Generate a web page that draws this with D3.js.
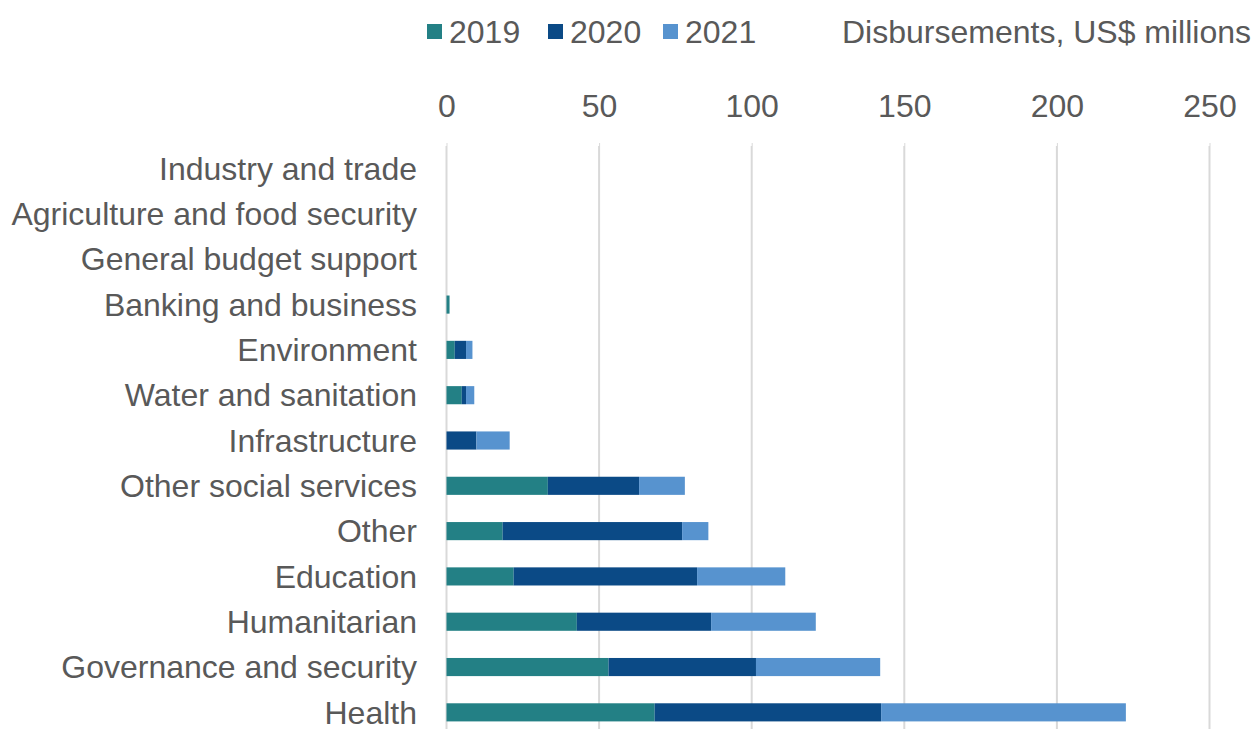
<!DOCTYPE html>
<html><head><meta charset="utf-8">
<script src="https://cdn.jsdelivr.net/npm/d3@7"></script>
<style>body{margin:0;background:#fff}svg{display:block}text{font-family:"Liberation Sans",Arial,sans-serif;fill:#595959}</style>
</head><body><svg id="c" width="1256" height="729"></svg>
<script>
const categories = ["Industry and trade","Agriculture and food security","General budget support","Banking and business","Environment","Water and sanitation","Infrastructure","Other social services","Other","Education","Humanitarian","Governance and security","Health"];
const years = ["2019","2020","2021"];
const v2019 = [0,0,0,1.0,2.7,5.0,0,33.2,18.4,22.0,42.7,53.1,68.2];
const v2020 = [0,0,0,0,3.7,1.4,9.8,29.9,58.8,60.1,44.0,48.3,74.2];
const v2021 = [0,0,0,0,2.1,2.7,10.9,15.0,8.6,28.9,34.3,40.7,80.2];
const ticks = [0,50,100,150,200,250];
const colors = ["#238085","#0b4a86","#5793cf"];

const svg = d3.select("#c");
const x = d3.scaleLinear().domain([0,250]).range([446.5,1209.5]);
const y = d3.scaleBand().domain(categories).range([146,735]).paddingInner(0.6).paddingOuter(0.3);

// gridlines
svg.append("g").selectAll("line").data(ticks).join("line")
  .attr("x1",d=>x(d)).attr("x2",d=>x(d)).attr("y1",146).attr("y2",735)
  .attr("stroke","#d9d9d9").attr("stroke-width",2);

// top axis
const ax = svg.append("g").attr("transform","translate(0,146)")
  .call(d3.axisTop(x).tickValues(ticks).tickSize(3).tickPadding(26));
ax.select(".domain").remove();
ax.selectAll(".tick line").attr("stroke","#d9d9d9");
ax.selectAll("text").style("font-size","32px").attr("fill","#595959");

// stacked bars
const rows = categories.map((c,i)=>({cat:c,"2019":v2019[i],"2020":v2020[i],"2021":v2021[i]}));
const stack = d3.stack().keys(years)(rows);
svg.append("g").selectAll("g").data(stack).join("g")
  .attr("fill",(d,i)=>colors[i])
  .selectAll("rect").data(d=>d.filter(p=>p[1]-p[0]>0)).join("rect")
  .attr("x",d=>x(d[0])).attr("width",d=>x(d[1])-x(d[0]))
  .attr("y",d=>y(d.data.cat)).attr("height",y.bandwidth());

// category labels
svg.append("g").selectAll("text").data(categories).join("text")
  .attr("x",417).attr("y",d=>y(d)+y.bandwidth()/2).attr("dy","0.35em")
  .attr("text-anchor","end").style("font-size","32px").text(d=>d);

// legend
const lx = [427,548,663];
const lg = svg.append("g");
years.forEach((yr,i)=>{
  lg.append("rect").attr("x",lx[i]).attr("y",24).attr("width",15).attr("height",15).attr("fill",colors[i]);
  lg.append("text").attr("x",lx[i]+22).attr("y",32).attr("dy","0.35em").style("font-size","32px").text(yr);
});
svg.append("text").attr("x",1251).attr("y",32).attr("dy","0.35em").attr("text-anchor","end")
  .style("font-size","32px").text("Disbursements, US$ millions");
</script></body></html>
